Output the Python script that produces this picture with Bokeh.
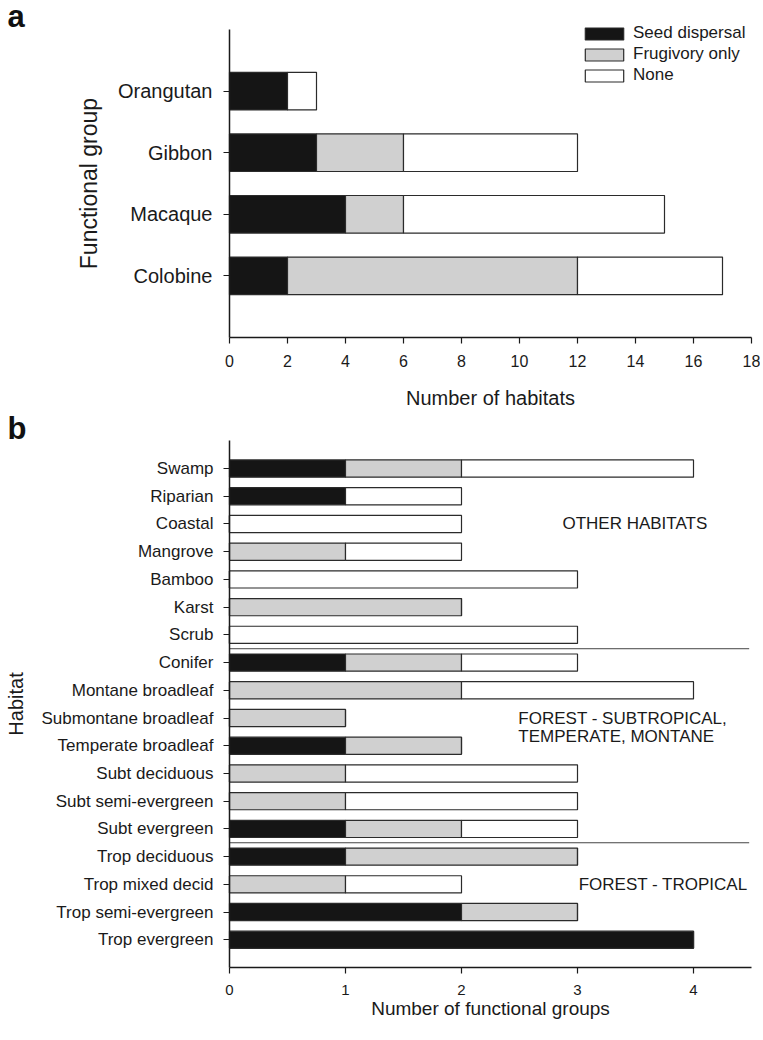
from bokeh.plotting import figure
from bokeh.models import ColumnDataSource, Range1d, FixedTicker, Label, Legend, LegendItem
from bokeh.layouts import column
from bokeh.embed import file_html
from bokeh.resources import INLINE

FONT = "Liberation Sans"
TXT = "#1a1a1a"

# ---------------- Panel a data (bottom to top) ----------------
groups = ["Colobine", "Macaque", "Gibbon", "Orangutan"]
a_seed = [2, 4, 3, 2]
a_frug = [10, 2, 3, 0]
a_none = [5, 9, 6, 1]
a_xticks = [0, 2, 4, 6, 8, 10, 12, 14, 16, 18]
a_xmax = 18

# ---------------- Panel b data (bottom to top) ----------------
habitats = ["Trop evergreen", "Trop semi-evergreen", "Trop mixed decid", "Trop deciduous",
            "Subt evergreen", "Subt semi-evergreen", "Subt deciduous", "Temperate broadleaf",
            "Submontane broadleaf", "Montane broadleaf", "Conifer",
            "Scrub", "Karst", "Bamboo", "Mangrove", "Coastal", "Riparian", "Swamp"]
b_seed = [4, 2, 0, 1, 1, 0, 0, 1, 0, 0, 1, 0, 0, 0, 0, 0, 1, 1]
b_frug = [0, 1, 1, 2, 1, 1, 1, 1, 1, 2, 1, 0, 2, 0, 1, 0, 0, 1]
b_none = [0, 0, 1, 0, 1, 2, 2, 0, 0, 2, 1, 3, 0, 3, 1, 2, 1, 2]
habitat_group = ["tropical"] * 4 + ["subtropical"] * 7 + ["other"] * 7
b_xticks = [0, 1, 2, 3, 4]
b_xmax = 4.5

series_labels = ["Seed dispersal", "Frugivory only", "None"]
fills = ["#151515", "#d0d0d0", "#ffffff"]
EDGE = "#2b2b2b"

# ---------------- layout geometry (pixels) ----------------
W = 760            # canvas width
AX_LEFT = 229      # x pixel of value 0
AX_RIGHT = 751     # x pixel of axis end
PANEL_FONT_PX = 31
CENTRAL = 0.3465 * PANEL_FONT_PX   # baseline offset of a "middle" anchored text


def make_fig(xmax, n_cats, canvas_h, axis_y, slot_px):
    """Frame covers the whole canvas; axes are pinned at 0 with limited bounds."""
    px_per_x = (AX_RIGHT - AX_LEFT) / xmax
    p = figure(frame_width=W, frame_height=canvas_h,
               x_range=Range1d(-AX_LEFT / px_per_x, (W - AX_LEFT) / px_per_x),
               y_range=Range1d(-(canvas_h - axis_y) / slot_px, axis_y / slot_px),
               output_backend="svg", toolbar_location=None,
               min_border_left=0, min_border_right=0,
               min_border_top=0, min_border_bottom=0)
    p.outline_line_color = None
    p.grid.visible = False
    p.background_fill_color = "white"
    p.border_fill_color = "white"
    for ax in (p.xaxis, p.yaxis):
        ax.minor_tick_line_color = None
        ax.major_tick_in = 0
        ax.major_tick_out = 6
        ax.axis_line_width = 1.5
        ax.axis_line_color = "#1a1a1a"
        ax.major_tick_line_color = "#1a1a1a"
        ax.major_tick_line_width = 1.2
        ax.major_label_text_font = FONT
        ax.major_label_text_color = TXT
        ax.axis_label_text_font = FONT
        ax.axis_label_text_font_style = "normal"
        ax.axis_label_text_color = TXT
        ax.fixed_location = 0
    p.xaxis.bounds = (0, xmax)
    p.yaxis.bounds = (0, n_cats + 1)
    return p, px_per_x


# ================= Panel a =================
PA_H, PA_AXIS, A_PY = 409, 337, 61.6
pa, A_PX = make_fig(a_xmax, len(groups), PA_H, PA_AXIS, A_PY)
ya = [i + 1 for i in range(len(groups))]
src_a = ColumnDataSource(dict(y=ya, seed=a_seed, frug=a_frug, none=a_none))
ra = pa.hbar_stack(["seed", "frug", "none"], y="y", height=0.61, fill_color=fills,
                   line_color=EDGE, line_width=1.2, source=src_a)
pa.xaxis.ticker = FixedTicker(ticks=a_xticks)
pa.yaxis.ticker = FixedTicker(ticks=ya)
pa.yaxis.major_label_overrides = {y: g for y, g in zip(ya, groups)}
pa.xaxis.major_label_text_font_size = "16px"
pa.yaxis.major_label_text_font_size = "20px"
pa.xaxis.major_label_standoff = 11
pa.yaxis.major_label_standoff = 11
pa.xaxis.axis_label = "Number of habitats"
pa.yaxis.axis_label = "Functional group"
pa.xaxis.axis_label_text_font_size = "20px"
pa.yaxis.axis_label_text_font_size = "23px"
pa.xaxis.axis_label_standoff = 17
pa.yaxis.axis_label_standoff = 13

legend = Legend(items=[LegendItem(label=l, renderers=[r]) for l, r in zip(series_labels, ra)],
                location=(580, 252 + PA_H - PA_AXIS), padding=0, margin=0, spacing=1,
                glyph_width=48, glyph_height=15, label_height=15, label_standoff=5,
                label_text_font=FONT, label_text_font_size="17px", label_text_color=TXT,
                border_line_color=None, background_fill_alpha=0)
pa.add_layout(legend, "center")

pa.add_layout(Label(x=(7 - AX_LEFT) / A_PX, y=(PA_AXIS - (26.5 - CENTRAL)) / A_PY, text="a",
                    text_font=FONT, text_font_style="bold", text_font_size=f"{PANEL_FONT_PX}px",
                    text_color="#111111", text_baseline="middle"))

# ================= Panel b =================
PB_H, B_PY = 1038 - PA_H, 27.72
PB_AXIS = 967 - PA_H
pb, B_PX = make_fig(b_xmax, len(habitats), PB_H, PB_AXIS, B_PY)
yb = [i + 1 for i in range(len(habitats))]
src_b = ColumnDataSource(dict(y=yb, seed=b_seed, frug=b_frug, none=b_none))
pb.hbar_stack(["seed", "frug", "none"], y="y", height=0.62, fill_color=fills,
              line_color=EDGE, line_width=1.2, source=src_b)
pb.xaxis.ticker = FixedTicker(ticks=b_xticks)
pb.yaxis.ticker = FixedTicker(ticks=yb)
pb.yaxis.major_label_overrides = {y: h for y, h in zip(yb, habitats)}
pb.xaxis.major_label_text_font_size = "15px"
pb.yaxis.major_label_text_font_size = "17px"
pb.xaxis.major_label_standoff = 11
pb.yaxis.major_label_standoff = 10
pb.xaxis.axis_label = "Number of functional groups"
pb.yaxis.axis_label = "Habitat"
pb.xaxis.axis_label_text_font_size = "19px"
pb.yaxis.axis_label_text_font_size = "20px"
pb.xaxis.axis_label_standoff = 0
pb.yaxis.axis_label_standoff = 11

# separators between habitat groups
sep_y = [yb[i] + 0.5 for i in range(len(habitat_group) - 1) if habitat_group[i] != habitat_group[i + 1]]
pb.segment(x0=[0] * len(sep_y), x1=[b_xmax - 0.02] * len(sep_y), y0=sep_y, y1=sep_y,
           line_color="#444444", line_width=1)

for x, y, t in [(2.87, 16.0, "OTHER HABITATS"),
                (2.49, 9.0, "FOREST - SUBTROPICAL,"),
                (2.49, 8.33, "TEMPERATE, MONTANE"),
                (3.01, 3.0, "FOREST - TROPICAL")]:
    pb.add_layout(Label(x=x, y=y, text=t, text_font=FONT, text_font_size="17px",
                        text_color=TXT, text_baseline="middle"))

pb.add_layout(Label(x=(7 - AX_LEFT) / B_PX, y=(PB_AXIS - (439 - CENTRAL - PA_H)) / B_PY, text="b",
                    text_font=FONT, text_font_style="bold", text_font_size=f"{PANEL_FONT_PX}px",
                    text_color="#111111", text_baseline="middle"))

layout = column(pa, pb)
open("out.html", "w").write(file_html(layout, INLINE))
